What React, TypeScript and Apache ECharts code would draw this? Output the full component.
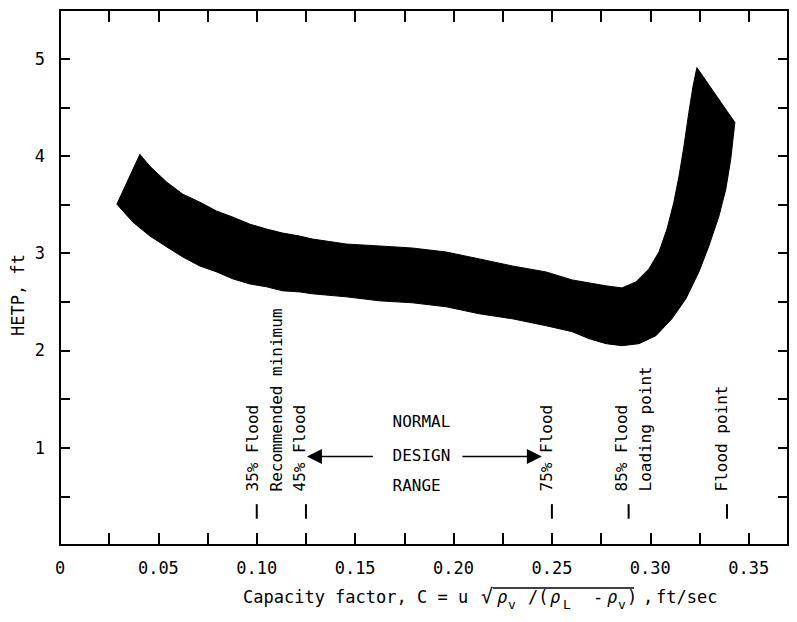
import React, { useEffect, useRef } from 'react';
import * as echarts from 'echarts';

// ---- data ----
const xTickLabels = ['0', '0.05', '0.10', '0.15', '0.20', '0.25', '0.30', '0.35'];
const yTickLabels = ['1', '2', '3', '4', '5'];

// upper outline of the HETP band (capacity factor, HETP ft), left to right
const upperC = [0.0289, 0.0406, 0.0457, 0.0543, 0.0624, 0.0710, 0.0797, 0.0878, 0.0964, 0.1050, 0.1131, 0.1218, 0.1284, 0.1456, 0.1624, 0.1791, 0.1963, 0.2131, 0.2298, 0.2471, 0.2603, 0.2775, 0.2856, 0.2927, 0.2993, 0.3044, 0.3085, 0.3120, 0.3146, 0.3171, 0.3196, 0.3217, 0.3237, 0.3430];
const upperHETP = [3.504, 4.016, 3.893, 3.730, 3.607, 3.525, 3.432, 3.371, 3.299, 3.248, 3.207, 3.176, 3.145, 3.094, 3.074, 3.053, 3.012, 2.941, 2.869, 2.807, 2.725, 2.664, 2.643, 2.705, 2.838, 3.012, 3.248, 3.525, 3.791, 4.098, 4.447, 4.713, 4.908, 4.344];
// lower outline of the band, left to right
const lowerC = [0.0289, 0.0370, 0.0457, 0.0543, 0.0624, 0.0710, 0.0797, 0.0878, 0.0964, 0.1050, 0.1131, 0.1218, 0.1284, 0.1456, 0.1624, 0.1791, 0.1963, 0.2131, 0.2298, 0.2471, 0.2603, 0.2689, 0.2775, 0.2856, 0.2943, 0.3029, 0.3110, 0.3181, 0.3247, 0.3298, 0.3349, 0.3384, 0.3409, 0.3430];
const lowerHETP = [3.504, 3.320, 3.176, 3.064, 2.961, 2.869, 2.807, 2.736, 2.684, 2.654, 2.613, 2.602, 2.582, 2.551, 2.510, 2.490, 2.449, 2.377, 2.326, 2.254, 2.193, 2.121, 2.070, 2.049, 2.070, 2.152, 2.326, 2.531, 2.807, 3.074, 3.381, 3.658, 3.965, 4.344];

// flood markers
const floodC = [0.10, 0.125, 0.25, 0.289, 0.339];
const floodLabels = [
  ['35% Flood'],
  ['Recommended minimum', '45% Flood'],
  ['75% Flood'],
  ['85% Flood', 'Loading point'],
  ['Flood point'],
];
// normal design range (45% to 75% flood)
const designRange = [0.125, 0.25];
const designText = ['NORMAL', 'DESIGN', 'RANGE'];

// ---- layout / style ----
const FONT = '"DejaVu Sans Mono", "Liberation Mono", monospace';
const labelOffsets = [[-4], [-29, -6], [-5], [-7, 17], [-6]];

function fmtX(v: number) {
  const k = v / 0.05;
  const r = Math.round(k);
  if (Math.abs(k - r) > 1e-6 || r < 0 || r >= xTickLabels.length) return '';
  return xTickLabels[r];
}
function fmtY(v: number) {
  const r = Math.round(v);
  if (Math.abs(v - r) > 1e-6 || r < 1 || r > yTickLabels.length) return '';
  return yTickLabels[r - 1];
}

function txt(text: string, x: number, y: number, size: number, opts: any = {}) {
  return {
    type: 'text',
    x,
    y,
    rotation: opts.rotation || 0,
    style: {
      text,
      fill: '#000',
      fontSize: size,
      fontFamily: FONT,
      fontStyle: opts.italic ? 'italic' : 'normal',
      align: opts.align || 'left',
      textAlign: opts.align || 'left',
      verticalAlign: 'middle',
      textVerticalAlign: 'middle',
    },
  };
}

export default function App() {
  const ref = useRef<HTMLDivElement>(null);
  useEffect(() => {
    const chart = echarts.init(ref.current!, null, { renderer: 'svg' });
    const xBase: any = {
      type: 'value',
      min: 0,
      max: 0.37,
      interval: 0.025,
      axisLine: { show: true, onZero: false, lineStyle: { color: '#000', width: 2 } },
      axisTick: { show: true, inside: true, length: 12, lineStyle: { color: '#000', width: 2 } },
      splitLine: { show: false },
    };
    const yBase: any = {
      type: 'value',
      min: 0,
      max: 5.5,
      interval: 0.5,
      axisLine: { show: true, onZero: false, lineStyle: { color: '#000', width: 2 } },
      axisTick: { show: true, inside: true, length: 10, lineStyle: { color: '#000', width: 2 } },
      splitLine: { show: false },
    };
    const option: any = {
      animation: false,
      backgroundColor: '#fff',
      grid: { left: 60, right: 9, top: 10, bottom: 77, containLabel: false },
      xAxis: [
        { ...xBase, position: 'bottom', axisLabel: { show: true, margin: 14, color: '#000', fontSize: 17, fontFamily: FONT, formatter: fmtX } },
        { ...xBase, position: 'top', axisLabel: { show: false } },
      ],
      yAxis: [
        { ...yBase, position: 'left', axisLabel: { show: true, margin: 15, color: '#000', fontSize: 17, fontFamily: FONT, formatter: fmtY } },
        { ...yBase, position: 'right', axisLabel: { show: false } },
      ],
      series: [
        {
          type: 'custom',
          name: 'HETP band',
          coordinateSystem: 'cartesian2d',
          xAxisIndex: 0,
          yAxisIndex: 0,
          silent: true,
          data: [[upperC[0], upperHETP[0]]],
          renderItem: (_params: any, api: any) => {
            const pts: number[][] = [];
            for (let i = 0; i < upperC.length; i++) pts.push(api.coord([upperC[i], upperHETP[i]]));
            for (let i = lowerC.length - 1; i >= 0; i--) pts.push(api.coord([lowerC[i], lowerHETP[i]]));
            return { type: 'polygon', shape: { points: pts }, style: { fill: '#000', stroke: '#000', lineWidth: 1, lineJoin: 'miter' } };
          },
        },
        {
          type: 'custom',
          name: 'flood markers',
          coordinateSystem: 'cartesian2d',
          xAxisIndex: 0,
          yAxisIndex: 0,
          silent: true,
          data: floodC.map((c) => [c, 0.35]),
          renderItem: (params: any, api: any) => {
            const i = params.dataIndex;
            const c = floodC[i];
            const p1 = api.coord([c, 0.27]);
            const p2 = api.coord([c, 0.42]);
            const base = api.coord([c, 0.55]);
            const children: any[] = [
              { type: 'line', shape: { x1: p1[0], y1: p1[1], x2: p2[0], y2: p2[1] }, style: { stroke: '#000', lineWidth: 2 } },
            ];
            floodLabels[i].forEach((t, j) => {
              children.push(txt(t, base[0] + labelOffsets[i][j], base[1], 16, { rotation: Math.PI / 2 }));
            });
            return { type: 'group', children };
          },
        },
        {
          type: 'custom',
          name: 'design range',
          coordinateSystem: 'cartesian2d',
          xAxisIndex: 0,
          yAxisIndex: 0,
          silent: true,
          data: [[designRange[0], 0.91]],
          renderItem: (_params: any, api: any) => {
            const lt = api.coord([designRange[0], 0.91]);
            const rt = api.coord([designRange[1], 0.91]);
            const y = lt[1];
            const lTip = lt[0] + 1;
            const rTip = rt[0] - 10;
            const textX = api.coord([0.169, 0])[0];
            const lTail = api.coord([0.159, 0])[0];
            const rTail = api.coord([0.2045, 0])[0];
            const al = 15;
            const ah = 7.5;
            const children: any[] = [
              { type: 'line', shape: { x1: lTail, y1: y, x2: lTip + al - 1, y2: y }, style: { stroke: '#000', lineWidth: 1.5 } },
              { type: 'polygon', shape: { points: [[lTip, y], [lTip + al, y - ah], [lTip + al, y + ah]] }, style: { fill: '#000' } },
              { type: 'line', shape: { x1: rTail, y1: y, x2: rTip - al + 1, y2: y }, style: { stroke: '#000', lineWidth: 1.5 } },
              { type: 'polygon', shape: { points: [[rTip, y], [rTip - al, y - ah], [rTip - al, y + ah]] }, style: { fill: '#000' } },
              txt(designText[0], textX, y - 35, 16),
              txt(designText[1], textX, y - 1, 16),
              txt(designText[2], textX, y + 29, 16),
            ];
            return { type: 'group', children };
          },
        },
      ],
      graphic: [
        txt('HETP, ft', 18, 295, 17, { rotation: Math.PI / 2, align: 'center' }),
        txt('Capacity factor, C = u', 243, 597, 17),
        txt('√', 481, 596, 20),
        txt('ρ', 497, 597, 17, { italic: true }),
        txt('v', 508, 604, 13),
        txt('/(', 528, 597, 17),
        txt('ρ', 550, 597, 17, { italic: true }),
        txt('L', 563, 604, 13),
        txt('-', 593, 597, 17),
        txt('ρ', 607, 597, 17, { italic: true }),
        txt('v', 618, 604, 13),
        txt(')', 627, 597, 17),
        txt(',', 643, 597, 17),
        txt('ft/sec', 656, 597, 17),
        { type: 'line', shape: { x1: 493, y1: 588, x2: 634, y2: 588 }, style: { stroke: '#000', lineWidth: 1.5 } },
      ],
    };
    chart.setOption(option);
    return () => chart.dispose();
  }, []);
  return (
    <div
      ref={ref}
      style={{ position: 'absolute', left: 0, top: 0, width: 797, height: 622, background: '#fff' }}
    />
  );
}
